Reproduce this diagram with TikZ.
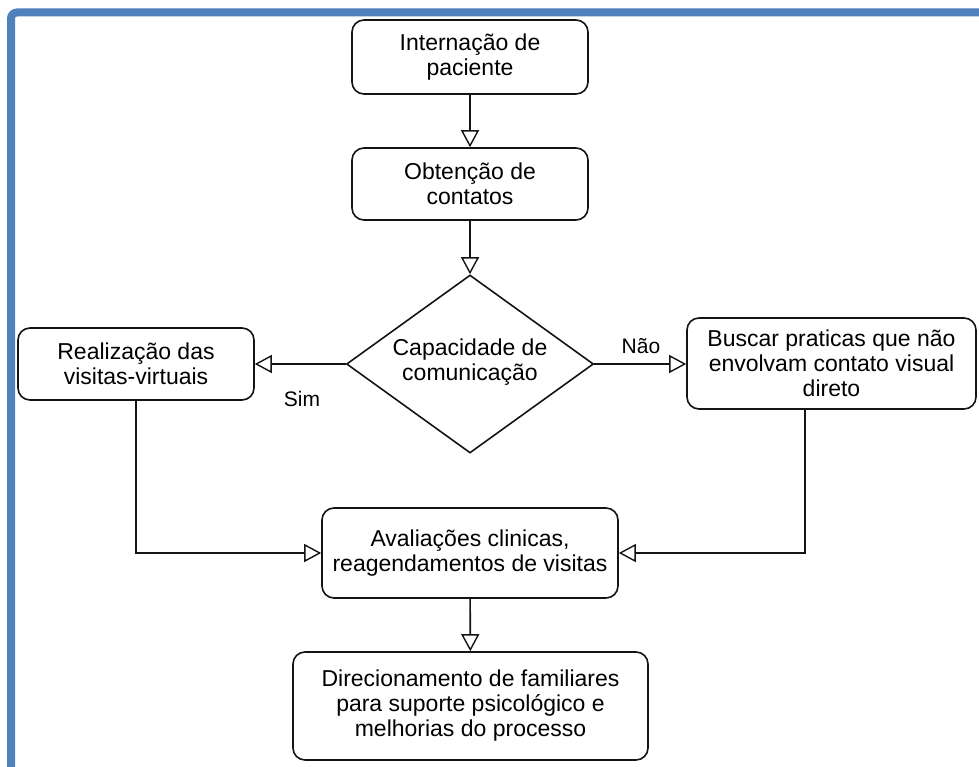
\documentclass[tikz,border=0pt]{standalone}
\usepackage{fontspec}
\setmainfont{Liberation Sans}
\usetikzlibrary{shapes.geometric,arrows.meta}
\definecolor{frameblue}{RGB}{79,129,189}
\definecolor{ink}{RGB}{20,20,20}
\begin{document}
\begin{tikzpicture}[x=1pt,y=-1pt,
  txt/.style={font=\fontsize{23}{25}\selectfont, text=black, align=center},
  procbox/.style={txt, draw=ink, line width=1.6pt, rounded corners=12pt, fill=white, inner sep=0pt},
  decision/.style={txt, draw=ink, line width=1.6pt, diamond, fill=white, inner sep=0pt, shape aspect=1.393},
  arr/.style={draw=ink, line width=1.6pt, -{Triangle[length=17pt, width=18pt, fill=white, line width=1.4pt]}},
  lbl/.style={font=\fontsize{21}{24}\selectfont, text=black}]
\useasboundingbox (0,0) rectangle (979,767);
\fill[white] (0,0) rectangle (979,767);
\draw[frameblue, line width=8pt, rounded corners=6pt] (11,767) -- (11,12.5) -- (979,12.5);

\node[procbox, minimum width=236pt, minimum height=74pt] (b1) at (470,57) {Internação de\\paciente};
\node[procbox, minimum width=236pt, minimum height=72pt] (b2) at (470,184) {Obtenção de\\contatos};
\node[decision, minimum width=247pt, minimum height=178pt] (d) at (470,364) {};
\node[txt] (dt) at (470,362) {Capacidade de\\comunicação};
\node[procbox, minimum width=236pt, minimum height=72pt] (l) at (136,364) {Realização das\\visitas-virtuais};
\node[procbox, minimum width=289pt, minimum height=91pt] (r) at (831.5,363.5) {Buscar praticas que não\\envolvam contato visual\\direto};
\node[procbox, minimum width=296pt, minimum height=90pt] (e) at (470,553) {Avaliações clinicas,\\reagendamentos de visitas};
\node[procbox, minimum width=355pt, minimum height=108pt] (f) at (470.5,706) {Direcionamento de familiares\\para suporte psicológico e\\melhorias do processo};

\node[lbl] (sim) at (302,399) {Sim};
\node[lbl] (nao) at (641,346) {Não};

\coordinate (rx) at (805,0);

\draw[arr] (b1) -- (b2);
\draw[arr] (b2) -- (d);
\draw[arr] (d.west) -- (l.east);
\draw[arr] (d.east) -- (r.west |- d.east);
\draw[arr] (l.south) |- (e.west);
\draw[arr] (r.south -| rx) |- (e.east);
\draw[arr] (e) -- (f);
\end{tikzpicture}
\end{document}
